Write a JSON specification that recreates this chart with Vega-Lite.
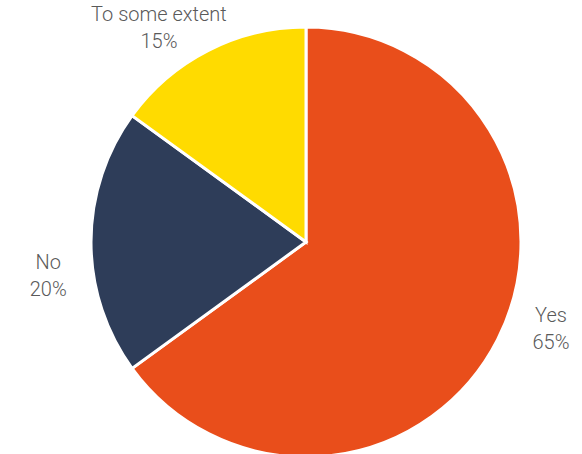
{
  "$schema": "https://vega.github.io/schema/vega-lite/v6.json",
  "autosize": {"type": "none"},
  "padding": {"left": 29, "top": 30, "right": 0, "bottom": 0},
  "width": 554,
  "height": 424,
  "background": "#ffffff",
  "data": {
    "values": [
      {"category": "Yes", "value": 65},
      {"category": "No", "value": 20},
      {"category": "To some extent", "value": 15}
    ]
  },
  "transform": [
    {"calculate": "datum.category + '\\n' + datum.value + '%'", "as": "label"},
    {"calculate": "indexof(['Yes', 'No', 'To some extent'], datum.category)", "as": "ord"}
  ],
  "encoding": {
    "theta": {"field": "value", "type": "quantitative", "stack": true},
    "order": {"field": "ord", "type": "quantitative", "sort": "ascending"},
    "color": {
      "field": "category",
      "type": "nominal",
      "sort": ["Yes", "No", "To some extent"],
      "scale": {"domain": ["Yes", "No", "To some extent"], "range": ["#E94E1B", "#2E3D59", "#FFDB00"]},
      "legend": null
    }
  },
  "layer": [
    {
      "mark": {"type": "arc", "radius": 215, "stroke": "#ffffff", "strokeWidth": 3}
    },
    {
      "mark": {
        "type": "text",
        "radius": 260,
        "thetaOffset": -0.13,
        "dy": -13,
        "font": "Roboto",
        "fontWeight": 300,
        "fontSize": 20,
        "lineBreak": "\n",
        "lineHeight": 27,
        "align": "center",
        "baseline": "middle",
        "fill": "#5a5a5a"
      },
      "encoding": {
        "text": {"field": "label"},
        "color": {"value": "#5a5a5a"}
      }
    }
  ]
}
